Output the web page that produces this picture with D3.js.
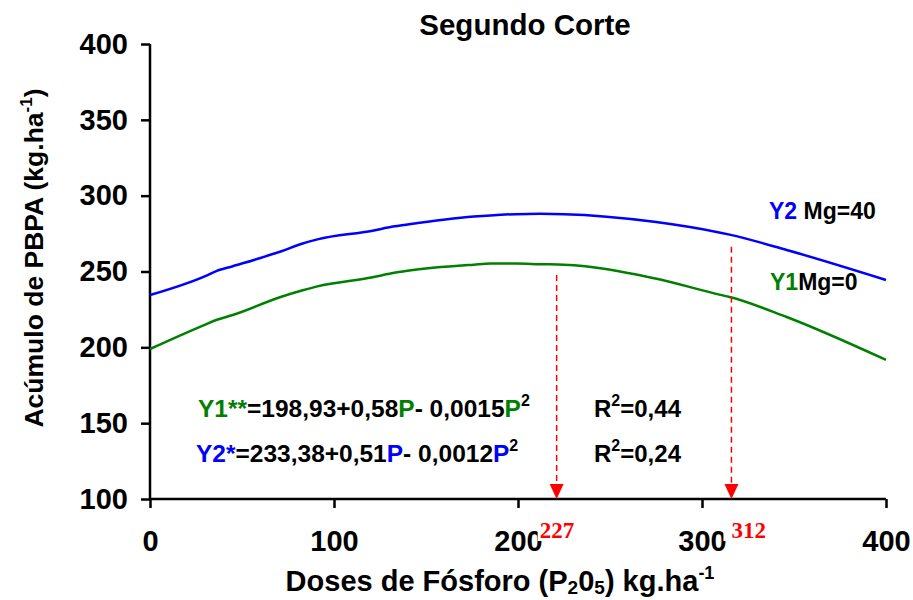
<!DOCTYPE html>
<html>
<head>
<meta charset="utf-8">
<script src="https://cdn.jsdelivr.net/npm/d3@7/dist/d3.min.js"></script>
<style>
  body { margin: 0; background: #fff; }
  text { font-family: Arial, "Liberation Sans", sans-serif; font-weight: bold; }
</style>
</head>
<body>
<svg id="chart" width="913" height="600"></svg>
<script>
// data
const doses = [0, 31, 36, 45, 71, 83, 91, 121, 132, 140, 176, 185, 199, 212, 225, 274, 310, 315, 346, 400];
const y2Values = [234.5, 247.5, 250.3, 253.5, 263.2, 268.5, 271.2, 276.9, 279.6, 281, 286.2, 287, 287.8, 288, 287.8, 282.8, 275.6, 274.3, 264.2, 244.4];
const y1Values = [198.9, 215.5, 218, 221.3, 233.2, 237.6, 240.2, 246.2, 249, 250.5, 254.5, 255.2, 255.2, 254.8, 254.5, 245.5, 234.6, 233.2, 220, 191.7];
const xTicks = [0, 100, 200, 300, 400];
const yTicks = [100, 150, 200, 250, 300, 350, 400];
const optDoses = [221, 316];
const optStart = [247.7, 266.4];
const optLabels = ['227', '312'];

const svg = d3.select('#chart');
const margin = { left: 150, right: 27, top: 44, bottom: 101 };
const width = 913 - margin.left - margin.right;
const height = 600 - margin.top - margin.bottom;

const x = d3.scaleLinear().domain([0, 400]).range([margin.left, margin.left + width]);
const y = d3.scaleLinear().domain([100, 400]).range([margin.top + height, margin.top]);

// axes
const xAxis = svg.append('g')
  .attr('transform', `translate(0,${margin.top + height})`)
  .call(d3.axisBottom(x).tickValues(xTicks).tickSize(9).tickPadding(22));
const yAxis = svg.append('g')
  .attr('transform', `translate(${margin.left},0)`)
  .call(d3.axisLeft(y).tickValues(yTicks).tickSize(9).tickPadding(13));

[xAxis, yAxis].forEach(a => {
  a.select('.domain').attr('stroke', '#000').attr('stroke-width', 2.5);
  a.selectAll('.tick line').attr('stroke', '#000').attr('stroke-width', 2.5);
  a.selectAll('.tick text').attr('fill', '#000').style('font-size', '29px')
    .style('font-family', 'Arial, "Liberation Sans", sans-serif').style('font-weight', 'bold');
});
xAxis.select('.domain').attr('d', `M${margin.left},0H${margin.left + width}`);
yAxis.select('.domain').attr('d', `M0,${margin.top + height}V${margin.top}`);

// curves
const line = d3.line().x(d => x(d[0])).y(d => y(d[1])).curve(d3.curveMonotoneX);
svg.append('path')
  .datum(doses.map((d, i) => [d, y2Values[i]]))
  .attr('d', line).attr('fill', 'none').attr('stroke', '#0000ff').attr('stroke-width', 2.5);
svg.append('path')
  .datum(doses.map((d, i) => [d, y1Values[i]]))
  .attr('d', line).attr('fill', 'none').attr('stroke', '#008000').attr('stroke-width', 2.5);

// optimum arrows
optDoses.forEach((d, i) => {
  svg.append('line')
    .attr('x1', x(d)).attr('x2', x(d))
    .attr('y1', y(optStart[i])).attr('y2', y(100) - 14)
    .attr('stroke', '#ff0000').attr('stroke-width', 1.5).attr('stroke-dasharray', '6,4');
  svg.append('path')
    .attr('d', `M${x(d) - 7},${y(100) - 15}L${x(d) + 7},${y(100) - 15}L${x(d)},${y(100)}Z`)
    .attr('fill', '#ff0000');
  const lx = i === 0 ? x(d) - 17 : x(d);
  const gap = i === 0 ? 2 : 8;
  svg.append('rect').attr('x', lx - gap).attr('y', 517).attr('width', 38 + gap).attr('height', 24).attr('fill', '#fff');
  svg.append('text')
    .attr('x', lx).attr('y', 538)
    .style('font-family', '"Liberation Serif", "Times New Roman", serif')
    .style('font-size', '23px').attr('fill', '#ff0000')
    .text(optLabels[i]);
});

// title
svg.append('text').attr('x', 525).attr('y', 35).attr('text-anchor', 'middle')
  .style('font-size', '29.5px').text('Segundo Corte');

// y title
const yt = svg.append('text')
  .attr('transform', 'translate(43,258) rotate(-90)')
  .attr('text-anchor', 'middle').style('font-size', '26.5px');
yt.append('tspan').text('Acúmulo de PBPA (kg.ha');
yt.append('tspan').attr('dy', -11).style('font-size', '17px').text('-1');
yt.append('tspan').attr('dy', 11).text(')');

// x title
const xt = svg.append('text').attr('x', 500).attr('y', 591).attr('text-anchor', 'middle').style('font-size', '29px');
xt.append('tspan').text('Doses de Fósforo (P');
xt.append('tspan').attr('dy', 3).style('font-size', '19px').text('2');
xt.append('tspan').attr('dy', -3).text('0');
xt.append('tspan').attr('dy', 3).style('font-size', '19px').text('5');
xt.append('tspan').attr('dy', -3).text(') kg.ha');
xt.append('tspan').attr('dy', -12).style('font-size', '18px').text('-1');

// series labels
const l2 = svg.append('text').attr('x', 769).attr('y', 219).style('font-size', '23px');
l2.append('tspan').attr('fill', '#0000ff').text('Y2 ');
l2.append('tspan').attr('fill', '#000').text('Mg=40');
const l1 = svg.append('text').attr('x', 770).attr('y', 290).style('font-size', '23px');
l1.append('tspan').attr('fill', '#008000').text('Y1');
l1.append('tspan').attr('fill', '#000').text('Mg=0');

// equations
function equation(px, py, name, color, parts) {
  const t = svg.append('text').attr('x', px).attr('y', py).style('font-size', '24.5px');
  t.append('tspan').attr('fill', color).text(name);
  t.append('tspan').attr('fill', '#000').text(parts[0]);
  t.append('tspan').attr('fill', color).text('P');
  t.append('tspan').attr('fill', '#000').text(parts[1]);
  t.append('tspan').attr('fill', color).text('P');
  t.append('tspan').attr('fill', '#000').attr('dy', -11).style('font-size', '16px').text('2');
}
equation(198, 417, 'Y1**', '#008000', ['=198,93+0,58', '- 0,0015']);
equation(196, 462, 'Y2*', '#0000ff', ['=233,38+0,51', '- 0,0012']);

function rsq(px, py, val) {
  const t = svg.append('text').attr('x', px).attr('y', py).style('font-size', '24px');
  t.append('tspan').text('R');
  t.append('tspan').attr('dy', -11).style('font-size', '16px').text('2');
  t.append('tspan').attr('dy', 11).text('=' + val);
}
rsq(594, 417, '0,44');
rsq(594, 462, '0,24');
</script>
</body>
</html>
